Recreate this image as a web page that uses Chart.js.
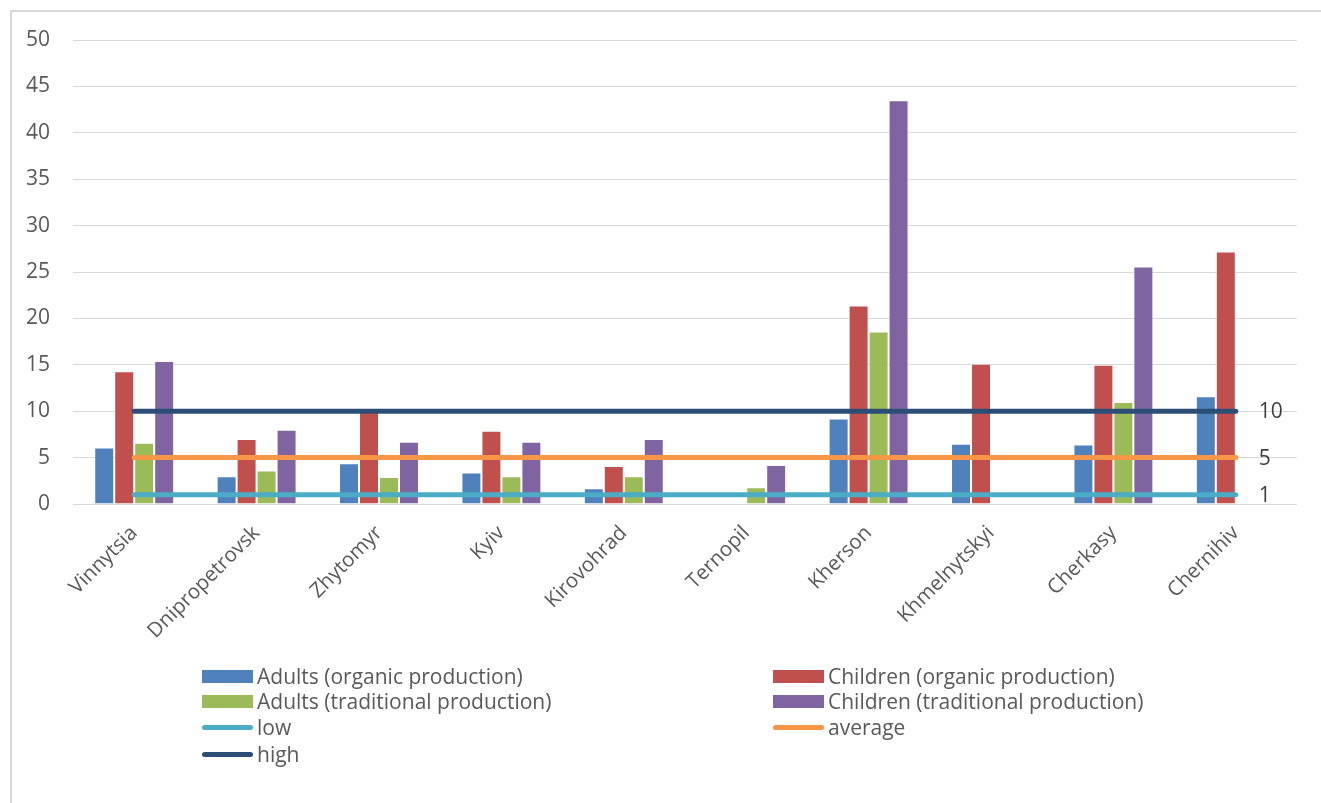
<!DOCTYPE html>
<html>
<head>
<meta charset="utf-8">
<title>Regions chart</title>
<script src="https://cdn.jsdelivr.net/npm/chart.js@4.4.0/dist/chart.umd.min.js"></script>
<style>
  body { margin: 0; background: #fff; }
  #wrap { position: relative; width: 1321px; height: 803px; overflow: hidden; font-family: 'Open Sans', sans-serif; }
  #frame { position: absolute; left: 10px; top: 10px; width: 1330px; height: 820px; border: 2px solid #d9d9d9; box-sizing: border-box; }
  #chart { position: absolute; left: 0; top: 0; }
  .item { position: absolute; height: 24px; display: flex; align-items: center; color: #595959; font-size: 21px; white-space: nowrap; }
  .swatch { width: 51px; margin-right: 4px; flex: none; }
  .swatch.bar { height: 13px; }
  .swatch.line { height: 5px; border-radius: 3px; }
</style>
</head>
<body>
<div id="wrap">
  <div id="frame"></div>
  <canvas id="chart" width="1321" height="803"></canvas>
  <div id="legend"></div>
</div>
<script>
const regions = ['Vinnytsia', 'Dnipropetrovsk', 'Zhytomyr', 'Kyiv', 'Kirovohrad',
  'Ternopil', 'Kherson', 'Khmelnytskyi', 'Cherkasy', 'Chernihiv'];
const adultsOrganic = [6.1, 3.0, 4.4, 3.4, 1.7, null, 9.2, 6.5, 6.4, 11.6];
const childrenOrganic = [14.3, 7.0, 10.0, 7.9, 4.1, null, 21.4, 15.1, 15.0, 27.2];
const adultsTraditional = [6.6, 3.6, 2.9, 3.0, 3.0, 1.8, 18.6, null, 11.0, null];
const childrenTraditional = [15.4, 8.0, 6.7, 6.7, 7.0, 4.2, 43.5, null, 25.6, null];
const lowLevel = [1, 1, 1, 1, 1, 1, 1, 1, 1, 1];
const averageLevel = [5, 5, 5, 5, 5, 5, 5, 5, 5, 5];
const highLevel = [10, 10, 10, 10, 10, 10, 10, 10, 10, 10];
const yTicks = [0, 5, 10, 15, 20, 25, 30, 35, 40, 45, 50];

const textColor = '#595959';
const fontName = "'Open Sans', sans-serif";

function barSet(label, data, color) {
  return {
    type: 'bar', label: label, data: data, order: 1,
    backgroundColor: color, borderColor: 'rgba(255,255,255,0.35)', borderWidth: 1,
    categoryPercentage: 0.653, barPercentage: 1.0
  };
}
function lineSet(label, data, color) {
  return {
    type: 'line', label: label, data: data, order: 0,
    borderColor: color, backgroundColor: color, borderWidth: 5,
    borderCapStyle: 'round', pointRadius: 0, fill: false
  };
}

const datasets = [
  barSet('Adults (organic production)', adultsOrganic, '#4F81BD'),
  barSet('Children (organic production)', childrenOrganic, '#C0504D'),
  barSet('Adults (traditional production)', adultsTraditional, '#9BBB59'),
  barSet('Children (traditional production)', childrenTraditional, '#8064A2'),
  lineSet('low', lowLevel, '#4BACC6'),
  lineSet('average', averageLevel, '#F79646'),
  lineSet('high', highLevel, '#2C4D75')
];

// numbers at the right end of the level lines
const levelLabels = {
  id: 'levelLabels',
  afterDatasetsDraw(chart) {
    const ctx = chart.ctx;
    chart.data.datasets.forEach((ds, i) => {
      if (ds.type !== 'line') return;
      const meta = chart.getDatasetMeta(i);
      const last = meta.data[meta.data.length - 1];
      ctx.save();
      ctx.font = '21px ' + fontName;
      ctx.fillStyle = '#404040';
      ctx.textAlign = 'left';
      ctx.textBaseline = 'middle';
      ctx.fillText(String(ds.data[ds.data.length - 1]), last.x + 23, last.y + 1);
      ctx.restore();
    });
  }
};

const ctx = document.getElementById('chart').getContext('2d');
new Chart(ctx, {
  data: { labels: regions, datasets: datasets },
  options: {
    responsive: false,
    animation: false,
    layout: { padding: { left: 10, right: 24, top: 40, bottom: 0 } },
    plugins: { legend: { display: false }, tooltip: { enabled: false } },
    scales: {
      x: {
        offset: true,
        grid: { display: false },
        border: { display: false },
        ticks: {
          color: textColor, font: { family: fontName, size: 20.5 },
          autoSkip: false, minRotation: 45, maxRotation: 45, padding: 9
        },
        afterFit(scale) { scale.height = 299; }
      },
      y: {
        min: 0, max: 50,
        afterBuildTicks(scale) { scale.ticks = yTicks.map(v => ({ value: v })); },
        grid: { color: '#d9d9d9', lineWidth: 1, drawTicks: false },
        border: { display: false },
        ticks: { color: textColor, font: { family: fontName, size: 21 }, padding: 23 },
        afterFit(scale) { scale.width = 63; }
      }
    }
  },
  plugins: [levelLabels]
});

// legend in two columns below the plot
const legendRows = [
  [0, 1], [2, 3], [4, 5], [6]
];
const legendTop = [664, 689, 715, 742];
const legendLeft = [202, 773];
const legend = document.getElementById('legend');
legendRows.forEach((row, r) => {
  row.forEach((idx, c) => {
    const ds = datasets[idx];
    const item = document.createElement('div');
    item.className = 'item';
    item.style.left = legendLeft[c] + 'px';
    item.style.top = legendTop[r] + 'px';
    const sw = document.createElement('span');
    sw.className = 'swatch ' + (ds.type === 'line' ? 'line' : 'bar');
    sw.style.background = ds.type === 'line' ? ds.borderColor : ds.backgroundColor;
    item.appendChild(sw);
    item.appendChild(document.createTextNode(ds.label));
    legend.appendChild(item);
  });
});
</script>
</body>
</html>
